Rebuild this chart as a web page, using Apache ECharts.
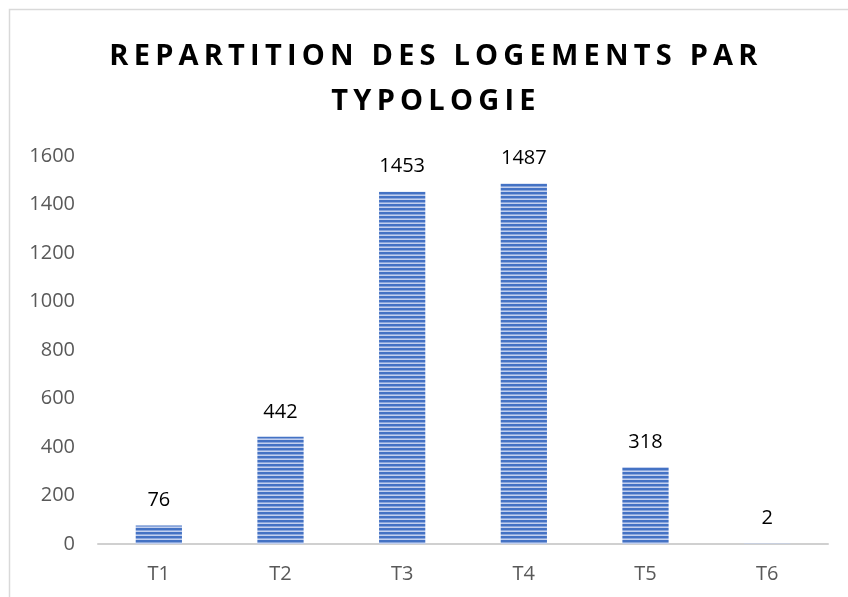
<!DOCTYPE html>
<html><head><meta charset="utf-8">
<script src="https://cdn.jsdelivr.net/npm/echarts@6/dist/echarts.min.js"></script>
<style>html,body{margin:0;padding:0;background:#fff}#c{width:848px;height:597px}</style>
</head><body><div id="c"></div>
<script>
const categories = ['T1','T2','T3','T4','T5','T6'];
const values = [76, 442, 1453, 1487, 318, 2];
const yTicks = [0,200,400,600,800,1000,1200,1400,1600];
const titleLines = ['REPARTITION DES LOGEMENTS PAR', 'TYPOLOGIE'];

// letter spacing for the title font only (canvas letterSpacing)
const TITLE_SIZE = 29;
(function(){
  const P = CanvasRenderingContext2D.prototype;
  const orig = P.fillText;
  P.fillText = function(t, x, y, m){
    if (this.font && this.font.indexOf('bold') >= 0 && this.font.indexOf(TITLE_SIZE + 'px') >= 0 && 'letterSpacing' in this) {
      const prev = this.letterSpacing;
      this.letterSpacing = '5.2px';
      const r = m === undefined ? orig.call(this, t, x, y) : orig.call(this, t, x, y, m);
      this.letterSpacing = prev;
      return r;
    }
    return m === undefined ? orig.call(this, t, x, y) : orig.call(this, t, x, y, m);
  };
})();

// striped pattern
const pc = document.createElement('canvas');
pc.width = 4; pc.height = 4;
const g = pc.getContext('2d');
g.fillStyle = '#c3d0ee'; g.fillRect(0,0,4,4);
g.fillStyle = '#4472c4'; g.fillRect(0,0,4,2);
g.fillStyle = '#8aa6dc'; g.fillRect(0,2,4,1);

const chart = echarts.init(document.getElementById('c'), null, {renderer:'canvas'});
chart.setOption({
  animation:false,
  backgroundColor:'#fff',
  title:{
    text: titleLines.join('\n'),
    left:431, textAlign:'center', top:29,
    textStyle:{fontFamily:'Open Sans', fontWeight:'bold', fontSize:TITLE_SIZE, color:'#000', lineHeight:45}
  },
  graphic:[{type:'rect', shape:{x:9.5,y:9.5,width:900,height:700}, style:{fill:'none', stroke:'#d9d9d9', lineWidth:1.5}, silent:true}],
  grid:{left:98, right:20, top:156, bottom:53, containLabel:false},
  xAxis:{
    type:'category', data:categories,
    axisLine:{lineStyle:{color:'#d0d0d0', width:2}},
    axisTick:{show:false},
    axisLabel:{color:'#595959', fontSize:20, fontFamily:'Open Sans', margin:20}
  },
  yAxis:{
    type:'value', min:0, max:1600, interval:200,
    axisLine:{show:false}, axisTick:{show:false}, splitLine:{show:false},
    axisLabel:{color:'#595959', fontSize:20, fontFamily:'Open Sans', margin:23,
      formatter:v=>yTicks.includes(v)?String(v):''}
  },
  series:[{
    type:'bar', data:values, barWidth:'38%',
    itemStyle:{color:{image:pc, repeat:'repeat'}},
    label:{show:true, position:'top', distance:15, color:'#000', fontSize:20, fontFamily:'Open Sans'}
  }]
});
</script></body></html>
